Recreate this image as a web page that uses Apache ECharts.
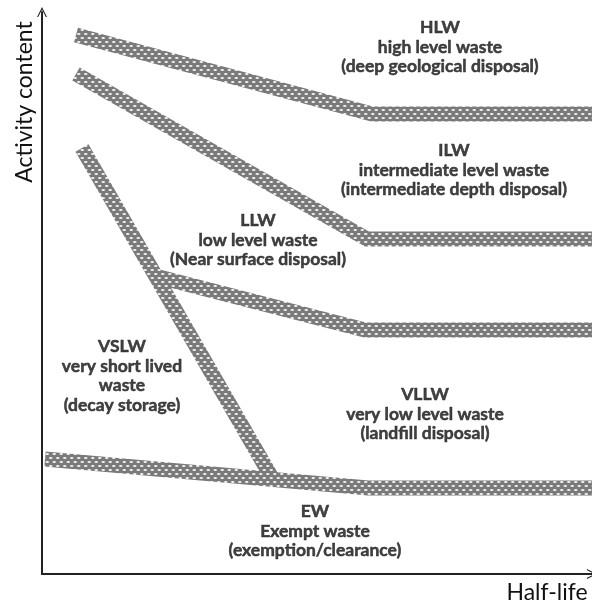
<!DOCTYPE html>
<html>
<head>
<meta charset="utf-8">
<script src="https://cdn.jsdelivr.net/npm/echarts@6/dist/echarts.min.js"></script>
<style>
html,body{margin:0;padding:0;background:#fff;}
#chart{width:592px;height:606px;}
</style>
</head>
<body>
<div id="chart"></div>
<script>
// boundary bands, in chart units (x = half-life, y = activity)
const hlwIlw = [[34, 539], [330, 460], [550, 460]]
const ilwLlw = [[34, 500], [325, 335], [550, 335]]
const vslwEdge = [[40, 426], [230, 96]]
const llwVllw = [[113, 298], [323, 244], [550, 244]]
const ewEdge = [[3, 115], [326, 86], [550, 86]]

// region labels
const regionX = [398, 412, 216, 80, 383, 273]
const regionY = [527, 404, 334, 198, 160, 43]
const regionText = [
    ['HLW', 'high level waste', '(deep geological disposal)'],
    ['ILW', 'intermediate level waste', '(intermediate depth disposal)'],
    ['LLW', 'low level waste', '(Near surface disposal)'],
    ['VSLW', 'very short lived', 'waste', '(decay storage)'],
    ['VLLW', 'very low level waste', '(landfill disposal)'],
    ['EW', 'Exempt waste', '(exemption/clearance)']
]

// gray band with white dots
const tile = document.createElement('canvas')
tile.width = 7
tile.height = 8
const ctx = tile.getContext('2d')
ctx.fillStyle = '#7a7a7a'
ctx.fillRect(0, 0, 7, 8)
ctx.fillStyle = '#f4f4f4'
;[[1.75, 2], [5.25, 6], [-1.75, 6], [8.75, 2]].forEach(p => {
    ctx.beginPath()
    ctx.ellipse(p[0], p[1], 1.8, 1.1, 0, 0, Math.PI * 2)
    ctx.fill()
})
const bandColor = {image: tile, repeat: 'repeat'}

const bands = [hlwIlw, ilwLlw, vslwEdge, llwVllw, ewEdge]
const series = bands.map(b => ({
    type: 'line',
    data: b,
    symbol: 'none',
    silent: true,
    clip: false,
    lineStyle: {width: 15, color: bandColor, cap: 'butt', join: 'miter'}
}))

series.push({
    type: 'scatter',
    symbolSize: 0,
    silent: true,
    data: regionX.map((x, i) => [x, regionY[i]]),
    label: {
        show: true,
        position: 'inside',
        formatter: p => regionText[p.dataIndex].join('\n'),
        fontFamily: 'Lato',
        fontWeight: 'bold',
        fontSize: 17.5,
        lineHeight: 19.5,
        color: '#111',
        textBorderColor: '#111',
        textBorderWidth: 0.5,
        align: 'center'
    }
})

// open chevron for the axis ends
const arrow = 'path://M0,10 L5,0 L10,10 L8.8,10 L5,2.4 L1.2,10 Z'
const axisLine = {
    show: true,
    symbol: ['none', arrow],
    symbolSize: [10, 10],
    lineStyle: {color: '#222', width: 2}
}

const chart = echarts.init(document.getElementById('chart'))
chart.setOption({
    animation: false,
    grid: {left: 42, right: 0, top: 12, bottom: 32},
    xAxis: {
        type: 'value', min: 0, max: 550,
        axisLine: axisLine,
        axisTick: {show: false}, axisLabel: {show: false}, splitLine: {show: false}
    },
    yAxis: {
        type: 'value', min: 0, max: 562,
        axisLine: axisLine,
        axisTick: {show: false}, axisLabel: {show: false}, splitLine: {show: false}
    },
    graphic: [
        {
            type: 'text', x: 25, y: 102, rotation: Math.PI / 2,
            style: {text: 'Activity content', font: '23px Lato', fill: '#111', align: 'center', verticalAlign: 'middle'}
        },
        {
            type: 'text', x: 547, y: 593,
            style: {text: 'Half-life', font: '23px Lato', fill: '#111', align: 'center', verticalAlign: 'middle'}
        }
    ],
    series: series
})
</script>
</body>
</html>
